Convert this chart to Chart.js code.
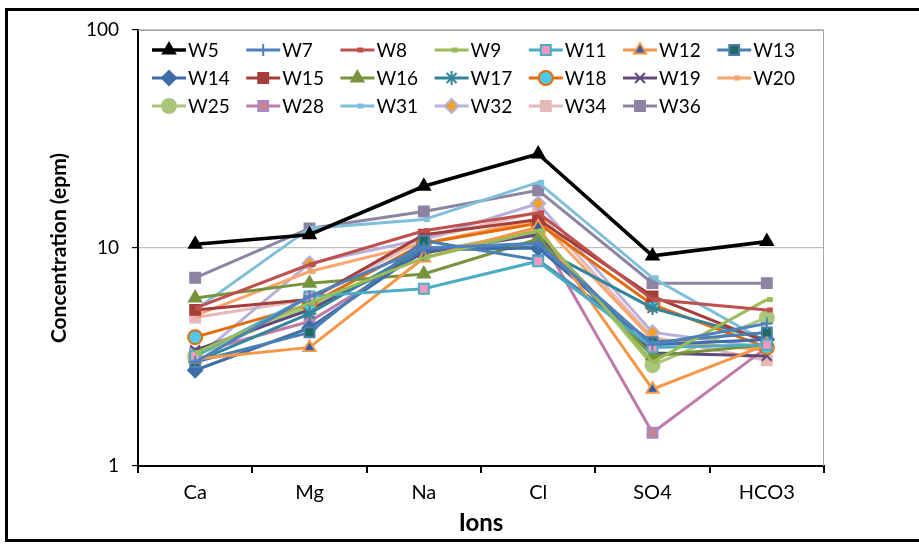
<!DOCTYPE html>
<html>
<head>
<meta charset="utf-8">
<script src="https://cdn.jsdelivr.net/npm/chart.js@4.4.1/dist/chart.umd.min.js"></script>
<style>
  html, body { margin: 0; padding: 0; background: #fff; }
  #wrap { width: 919px; height: 545px; position: relative; }
</style>
</head>
<body>
<div id="wrap"><canvas id="chart" width="919" height="545"></canvas></div>
<script>
// ions on the x axis
var ions = ['Ca', 'Mg', 'Na', 'Cl', 'SO4', 'HCO3'];
var yTicks = [1, 10, 100];

// concentrations (epm) per well
var w5  = [10.4, 11.5, 19.2, 27.0, 9.2, 10.7];
var w7  = [3.0, 6.0, 10.0, 10.5, 3.6, 4.5];
var w8  = [5.3, 8.4, 12.0, 14.5, 5.8, 5.2];
var w9  = [3.3, 5.6, 9.0, 12.0, 3.0, 5.8];
var w11 = [3.2, 6.0, 6.5, 8.7, 3.5, 3.6];
var w12 = [3.1, 3.5, 9.0, 12.5, 2.25, 3.6];
var w13 = [3.0, 4.1, 10.8, 8.8, 3.7, 4.1];
var w14 = [2.75, 4.3, 9.8, 10.0, 3.6, 3.8];
var w15 = [5.2, 5.8, 11.5, 13.5, 6.0, 3.7];
var w16 = [5.9, 6.9, 7.6, 11.0, 3.2, 3.6];
var w17 = [3.0, 5.0, 10.0, 10.1, 5.3, 3.8];
var w18 = [3.9, 5.5, 10.5, 13.0, 5.5, 3.5];
var w19 = [3.4, 5.2, 9.5, 11.5, 3.3, 3.2];
var w20 = [4.9, 7.8, 10.5, 13.5, 3.8, 3.4];
var w25 = [3.2, 5.4, 9.5, 12.0, 2.9, 4.8];
var w28 = [3.3, 4.6, 9.6, 11.7, 1.42, 3.5];
var w31 = [5.2, 12.3, 13.5, 20.0, 7.3, 3.7];
var w32 = [3.1, 8.5, 11.0, 16.0, 4.1, 3.5];
var w34 = [4.8, 5.8, 11.0, 14.6, 3.9, 3.05];
var w36 = [7.3, 12.3, 14.7, 18.4, 6.9, 6.9];

var wells = ['W5','W7','W8','W9','W11','W12','W13','W14','W15','W16','W17','W18','W19','W20','W25','W28','W31','W32','W34','W36'];
var values = [w5,w7,w8,w9,w11,w12,w13,w14,w15,w16,w17,w18,w19,w20,w25,w28,w31,w32,w34,w36];

// line colour, marker style, marker fill, marker border
var styles = [
  ['#000000', 'triangle', '#000000', '#000000'],
  ['#4F81BD', 'cross',    '#4F81BD', '#4F81BD'],
  ['#C0504D', 'dash',     '#C0504D', '#C0504D'],
  ['#9BBB59', 'dash',     '#9BBB59', '#9BBB59'],
  ['#4BACC6', 'rect',     '#F49AC1', '#4BACC6'],
  ['#F79646', 'triangle', '#2F5FA8', '#F79646'],
  ['#4A7FAF', 'rect',     '#1F6B63', '#4A7FAF'],
  ['#3E6DAA', 'rectRot',  '#3E6DAA', '#3E6DAA'],
  ['#A33E3A', 'rect',     '#A33E3A', '#A33E3A'],
  ['#77933C', 'triangle', '#77933C', '#77933C'],
  ['#31859C', 'star',     '#31859C', '#31859C'],
  ['#E46C0A', 'circle',   '#4FC9E8', '#E46C0A'],
  ['#604A7B', 'crossRot', '#604A7B', '#604A7B'],
  ['#F9A66E', 'dash',     '#F9A66E', '#F9A66E'],
  ['#A9C77A', 'circle',   '#A9C77A', '#A9C77A'],
  ['#C07AA8', 'rect',     '#C9828F', '#A28AD0'],
  ['#7EBFDB', 'dash',     '#7EBFDB', '#7EBFDB'],
  ['#B7B0DA', 'rectRot',  '#F0A030', '#B7B0DA'],
  ['#E6B9B8', 'rect',     '#E6B9B8', '#E6B9B8'],
  ['#8C84A2', 'rect',     '#8C84A2', '#8C84A2']
];

var datasets = wells.map(function (name, i) {
  var s = styles[i];
  var thin = s[1] === 'cross' || s[1] === 'dash';
  return {
    label: name,
    data: values[i],
    borderColor: s[0],
    backgroundColor: s[2],
    borderWidth: i === 0 ? 3.6 : 3,
    pointStyle: s[1],
    pointRadius: thin ? 6 : 7,
    pointBackgroundColor: s[2],
    pointBorderColor: s[3],
    pointBorderWidth: s[1] === 'dash' ? 5 : 2,
    tension: 0
  };
});

// frame round the whole figure + box round the plot area
var framePlugin = {
  id: 'frame',
  beforeDatasetsDraw: function (chart) {
    var ctx = chart.ctx, a = chart.chartArea;
    ctx.save();
    ctx.strokeStyle = '#a6a6a6';
    ctx.lineWidth = 1;
    ctx.beginPath();
    ctx.moveTo(a.left, a.top + 0.5);
    ctx.lineTo(a.right - 0.5, a.top + 0.5);
    ctx.lineTo(a.right - 0.5, a.bottom);
    ctx.stroke();
    ctx.restore();
  },
  afterDraw: function (chart) {
    var ctx = chart.ctx;
    ctx.save();
    ctx.strokeStyle = '#000';
    ctx.lineWidth = 3;
    ctx.strokeRect(6.5, 9.5, 930, 531);
    ctx.restore();
  }
};

// legend drawn inside the plot, 7 columns
var legendPlugin = {
  id: 'insideLegend',
  afterDraw: function (chart) {
    var ctx = chart.ctx;
    ctx.save();
    ctx.font = '19px Lato';
    ctx.textBaseline = 'middle';
    chart.data.datasets.forEach(function (ds, i) {
      var col = i % 7, row = Math.floor(i / 7);
      var x = 152 + col * 94.2;
      var y = 50 + row * 28;
      ctx.strokeStyle = ds.borderColor;
      ctx.lineWidth = ds.borderWidth;
      ctx.beginPath();
      ctx.moveTo(x, y);
      ctx.lineTo(x + 34, y);
      ctx.stroke();
      ctx.fillStyle = ds.pointBackgroundColor;
      ctx.strokeStyle = ds.pointBorderColor;
      ctx.lineWidth = ds.pointBorderWidth;
      Chart.helpers.drawPoint(ctx, {
        pointStyle: ds.pointStyle,
        radius: ds.pointRadius,
        borderWidth: ds.pointBorderWidth,
        rotation: 0
      }, x + 17, y);
      ctx.fillStyle = '#000';
      ctx.fillText(ds.label, x + 36, y + 1);
    });
    ctx.restore();
  }
};

new Chart(document.getElementById('chart'), {
  type: 'line',
  data: { labels: ions, datasets: datasets },
  options: {
    responsive: false,
    animation: false,
    layout: { padding: { left: 0, right: 95, top: 30, bottom: 0 } },
    plugins: { legend: { display: false }, tooltip: { enabled: false } },
    scales: {
      x: {
        offset: true,
        grid: { offset: true, drawOnChartArea: false, tickColor: '#000', tickLength: 7, lineWidth: 2 },
        border: { color: '#000', width: 2 },
        ticks: { color: '#000', font: { family: 'Lato', size: 20 }, padding: 8 },
        title: { display: true, text: 'Ions', color: '#000', font: { family: 'Lato', size: 24, weight: 'bold' }, padding: { top: 0, bottom: 7 } },
        afterFit: function (s) { s.height = 79; }
      },
      y: {
        type: 'logarithmic',
        min: 1,
        max: 100,
        afterBuildTicks: function (s) { s.ticks = yTicks.map(function (v) { return { value: v }; }); },
        grid: { color: '#bfbfbf', tickColor: '#000', tickLength: 6, lineWidth: 1.2 },
        border: { color: '#000', width: 2 },
        ticks: {
          color: '#000', font: { family: 'Lato', size: 19 }, padding: 13,
          callback: function (v) { return String(v); }
        },
        title: { display: true, text: 'Concentration (epm)', color: '#000', font: { family: 'Lato', size: 21, weight: 'bold' }, padding: { top: 47, bottom: 0 } },
        afterFit: function (s) { s.width = 138; }
      }
    }
  },
  plugins: [framePlugin, legendPlugin]
});
</script>
</body>
</html>
